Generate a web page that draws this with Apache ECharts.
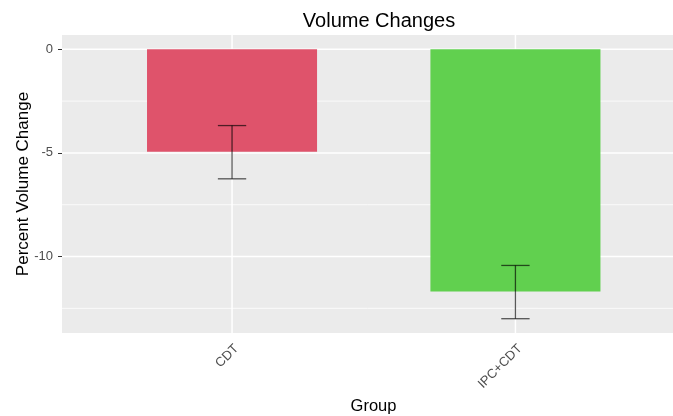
<!DOCTYPE html>
<html>
<head>
<meta charset="utf-8">
<script src="https://cdn.jsdelivr.net/npm/echarts@6/dist/echarts.min.js"></script>
<style>
html,body{margin:0;padding:0;background:#fff;}
#chart{width:673px;height:416px;}
</style>
</head>
<body>
<div id="chart"></div>
<script>
// ---- data ----
const categories = ['CDT', 'IPC+CDT'];
const means = [-4.94, -11.69];
const errLow = [-6.25, -13.0];
const errHigh = [-3.68, -10.43];
const yTickValues = [0, -5, -10];
const yMinorGrid = [-2.5, -7.5, -12.5];

// ---- styles ----
const palette = ['#DF536B', '#61D04F'];
const FONT = '"Liberation Sans", Arial, sans-serif';

const xPos = categories.map((c, i) => i + 1);

const chart = echarts.init(document.getElementById('chart'), null, {renderer: 'canvas'});

function hLine(params, api, yVal, width) {
  const cs = params.coordSys;
  const y = api.coord([1, yVal])[1];
  return {type: 'line', shape: {x1: cs.x, y1: y, x2: cs.x + cs.width, y2: y},
    style: {stroke: '#FFFFFF', lineWidth: width}, silent: true};
}

const option = {
  animation: false,
  backgroundColor: '#FFFFFF',
  title: {
    text: 'Volume Changes',
    left: 374, top: 6, textAlign: 'center',
    textStyle: {fontFamily: FONT, fontSize: 20, fontWeight: 'normal', color: '#000'}
  },
  grid: {
    left: 62, right: 0, top: 35, bottom: 83,
    outerBoundsMode: 'none', containLabel: false,
    show: true, backgroundColor: '#EBEBEB', borderWidth: 0
  },
  xAxis: {
    type: 'value', min: 0.4, max: 2.556,
    name: 'Group', nameLocation: 'middle', nameGap: 65, nameMoveOverlap: false,
    nameTextStyle: {fontFamily: FONT, fontSize: 16.5, color: '#000', padding: [0, 0, 0, 12]},
    axisLine: {show: false},
    axisTick: {show: true, length: 4, customValues: xPos, lineStyle: {color: '#333', width: 1}},
    axisLabel: {
      customValues: xPos, rotate: 45, margin: 9, verticalAlign: 'top',
      fontFamily: FONT, fontSize: 13, color: '#4D4D4D',
      formatter: v => categories[Math.round(v) - 1] || ''
    },
    splitLine: {show: false}
  },
  yAxis: {
    type: 'value', min: -13.69, max: 0.69,
    name: 'Percent Volume Change', nameLocation: 'middle', nameGap: 30, nameMoveOverlap: false,
    nameTextStyle: {fontFamily: FONT, fontSize: 17, color: '#000'},
    axisLine: {show: false},
    axisTick: {show: true, length: 4, customValues: yTickValues, lineStyle: {color: '#333', width: 1}},
    axisLabel: {customValues: yTickValues, margin: 9, fontFamily: FONT, fontSize: 13, color: '#4D4D4D'},
    splitLine: {show: false}
  },
  series: [
    {
      // horizontal grid lines (major + minor), behind bars
      type: 'custom', z: 1, silent: true,
      data: yTickValues.map(v => [1, v, 1]).concat(yMinorGrid.map(v => [1, v, 0])),
      encode: {x: 0, y: 1},
      renderItem: (params, api) => hLine(params, api, api.value(1), api.value(2) ? 1.5 : 0.8)
    },
    {
      // vertical grid lines at categories
      type: 'custom', z: 1, silent: true,
      data: xPos.map(x => [x, 0]),
      encode: {x: 0, y: 1},
      renderItem: (params, api) => {
        const cs = params.coordSys;
        const x = api.coord([api.value(0), 0])[0];
        return {type: 'line', shape: {x1: x, y1: cs.y, x2: x, y2: cs.y + cs.height},
          style: {stroke: '#FFFFFF', lineWidth: 1.5}, silent: true};
      }
    },
    {
      type: 'bar', z: 2,
      barWidth: '60%',
      data: xPos.map((x, i) => [x, means[i]]),
      itemStyle: {color: p => palette[p.dataIndex]}
    },
    {
      type: 'custom', z: 3,
      data: xPos.map((x, i) => [x, errLow[i], errHigh[i]]),
      encode: {x: 0, y: [1, 2]},
      renderItem: (params, api) => {
        const x = api.value(0);
        const lo = api.coord([x, api.value(1)]);
        const hi = api.coord([x, api.value(2)]);
        const half = api.size([0.1, 0])[0] / 2;
        const st = {stroke: 'rgba(0,0,0,0.65)', lineWidth: 1.3};
        return {type: 'group', children: [
          {type: 'line', shape: {x1: lo[0], y1: lo[1], x2: hi[0], y2: hi[1]}, style: st},
          {type: 'line', shape: {x1: lo[0] - half, y1: lo[1], x2: lo[0] + half, y2: lo[1]}, style: st},
          {type: 'line', shape: {x1: hi[0] - half, y1: hi[1], x2: hi[0] + half, y2: hi[1]}, style: st}
        ]};
      }
    }
  ]
};
chart.setOption(option);
</script>
</body>
</html>
